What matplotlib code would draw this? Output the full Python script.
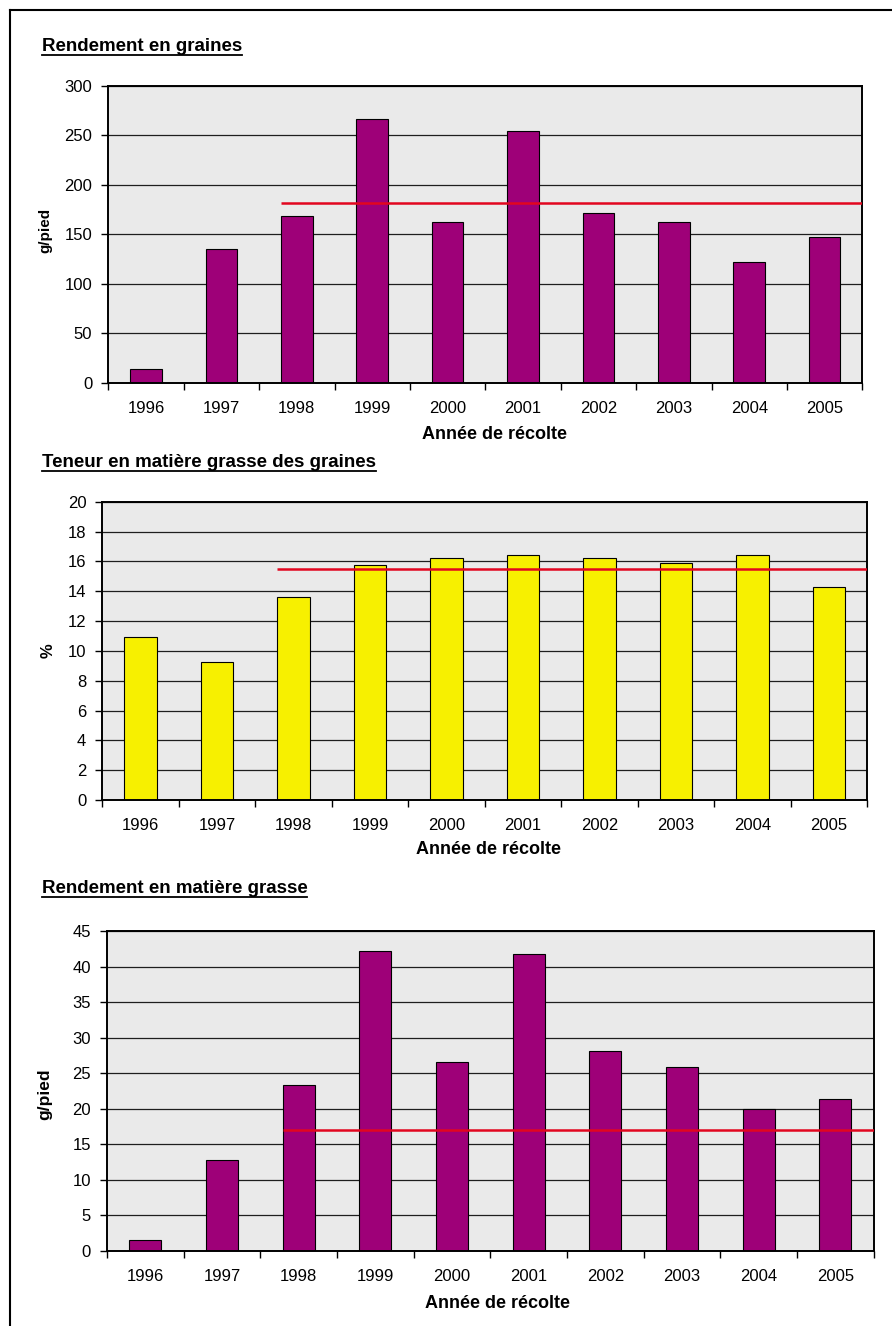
import matplotlib
matplotlib.use("Agg")
import matplotlib.pyplot as plt
from matplotlib.lines import Line2D
import numpy as np

plt.rcParams['font.family'] = ['Liberation Sans', 'DejaVu Sans']

# data
years = ['1996', '1997', '1998', '1999', '2000', '2001', '2002', '2003', '2004', '2005']
rendement_graines = [13.5, 134.9, 168.6, 266.3, 162.5, 254.2, 171.3, 162.5, 121.7, 147.0]
teneur_mg = [10.95, 9.27, 13.63, 15.77, 16.2, 16.4, 16.2, 15.86, 16.42, 14.3]
rendement_mg = [1.5, 12.77, 23.37, 42.2, 26.5, 41.8, 28.1, 25.86, 19.99, 21.35]
# mean line (drawn from 1998 onwards)
moyennes = [181.4, 15.47, 16.99]
debut_moyenne = '1998'

titles = ['Rendement en graines', 'Teneur en matière grasse des graines',
          'Rendement en matière grasse']
ylabels = ['g/pied', '%', 'g/pied']
xlabel = 'Année de récolte'

W, H = 892, 1326
BAR_W = 0.42
PURPLE = '#9E0078'
YELLOW = '#F7F000'
RED = '#E2061F'

fig = plt.figure(figsize=(W / 100, H / 100), dpi=100)


def px_rect(left, top, right, bottom):
    return [left / W, 1 - bottom / H, (right - left) / W, (bottom - top) / H]


def fy(y_px):
    return 1 - y_px / H


def underlined_title(text, x_px, base_px):
    t = fig.text(x_px / W, fy(base_px), text, fontsize=13.5, fontweight='bold',
                 ha='left', va='baseline')
    bb = t.get_window_extent(fig.canvas.get_renderer())
    y = fy(base_px + 3.8)
    fig.add_artist(Line2D([bb.x0 / W, bb.x1 / W], [y, y], color='black', lw=1.3,
                          transform=fig.transFigure))


def draw_panel(rect, values, mean, color, ymax, ystep):
    ax = fig.add_axes(rect)
    x = np.arange(len(years))
    ax.set_facecolor('#EAEAEA')
    ax.set_axisbelow(True)
    ax.yaxis.grid(True, color='#1e1e1e', lw=0.9)
    ax.bar(x, values, width=BAR_W, color=color, edgecolor='black', lw=0.8, zorder=2)
    start = years.index(debut_moyenne)
    ax.hlines(mean, start - BAR_W / 2, len(years) - 0.5, color=RED, lw=1.8, zorder=3)

    ax.set_xlim(-0.5, len(years) - 0.5)
    ax.set_ylim(0, ymax)
    ax.set_yticks(np.arange(0, ymax + ystep / 2, ystep))
    ax.set_xticks(np.arange(-0.5, len(years)))
    ax.set_xticklabels([])
    ax.set_xticks(x, minor=True)
    ax.set_xticklabels(years, minor=True)
    ax.tick_params(axis='x', which='major', length=5, width=1)
    ax.tick_params(axis='x', which='minor', length=0, pad=13, labelsize=12)
    ax.tick_params(axis='y', length=5, width=1, pad=6.5, labelsize=12)
    for s in ax.spines.values():
        s.set_linewidth(1.4)
        s.set_color('black')
    return ax


# panel 1
draw_panel(px_rect(108.3, 86, 862.3, 382.7), rendement_graines, moyennes[0], PURPLE, 300, 50)
underlined_title(titles[0], 41.7, 50.7)
fig.text(45 / W, fy(230), ylabels[0], rotation=90, ha='center', va='center',
         fontsize=11, fontweight='bold')
fig.text(494 / W, fy(435), xlabel, ha='center', va='center', fontsize=13, fontweight='bold')

# panel 2
draw_panel(px_rect(102.3, 501.7, 867.3, 800), teneur_mg, moyennes[1], YELLOW, 20, 2)
underlined_title(titles[1], 41.7, 466.7)
fig.text(48.3 / W, fy(651), ylabels[1], rotation=90, ha='center', va='center',
         fontsize=12, fontweight='bold')
fig.text(488.6 / W, fy(850), xlabel, ha='center', va='center', fontsize=13, fontweight='bold')

# panel 3
draw_panel(px_rect(107, 931, 873.7, 1250.7), rendement_mg, moyennes[2], PURPLE, 45, 5)
underlined_title(titles[2], 41.7, 893.3)
fig.text(45 / W, fy(1094), ylabels[2], rotation=90, ha='center', va='center',
         fontsize=12.5, fontweight='bold')
fig.text(498 / W, fy(1303), xlabel, ha='center', va='center', fontsize=13, fontweight='bold')

# outer frame (left and top edges only visible)
fig.add_artist(Line2D([10 / W, 10 / W], [fy(10), 0], color='black', lw=1.5, transform=fig.transFigure))
fig.add_artist(Line2D([10 / W, 1], [fy(10), fy(10)], color='black', lw=1.5, transform=fig.transFigure))

fig.savefig('out.png', dpi=100, facecolor='white')
